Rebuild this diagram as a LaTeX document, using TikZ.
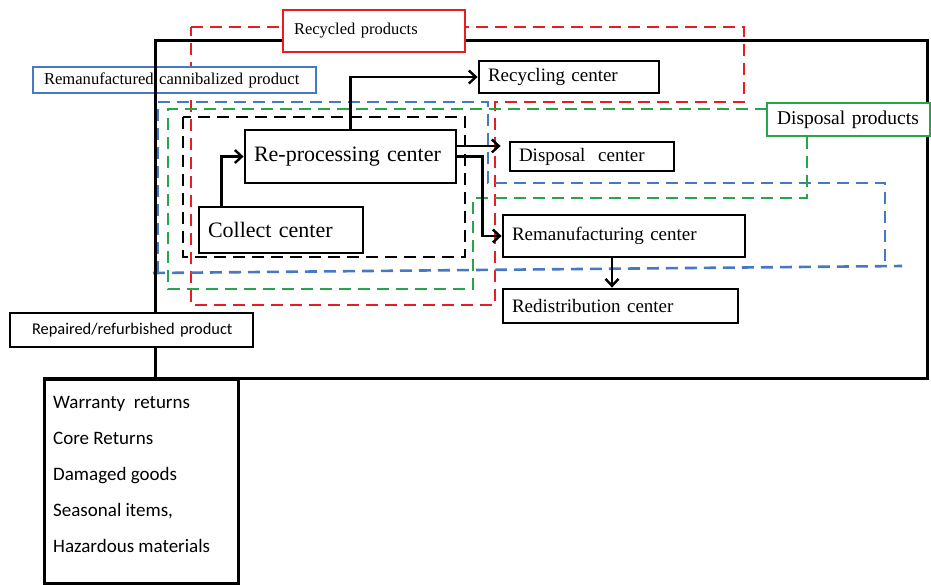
\documentclass[tikz,border=0pt]{standalone}
\usepackage{fontspec}
\setmainfont{Liberation Serif}
\newfontfamily\calibrifont{Carlito}
\usetikzlibrary{arrows.meta,calc}
\definecolor{dred}{RGB}{230,30,35}
\definecolor{dblue}{RGB}{70,120,195}
\definecolor{dgreen}{RGB}{40,165,75}
\tikzset{
  frameline/.style={line width=3pt,line join=miter},
  zone/.style={line width=2.6pt,dash pattern=on 12pt off 7pt},
  cbox/.style={draw,line width=2.8pt,fill=white,inner xsep=9pt,inner ysep=0pt,align=left},
  lbox/.style={draw,line width=2pt,fill=white,inner xsep=10pt,inner ysep=0pt,align=left},
  arr/.style={line width=2.4pt,-{Straight Barb[length=7pt,width=13pt,line width=2.4pt]}},
  fa/.style={font=\fontsize{22pt}{26pt}\selectfont},
  fb/.style={font=\fontsize{19pt}{23pt}\selectfont},
  fc/.style={font=\fontsize{16.5pt}{20pt}\selectfont},
}
\begin{document}
\begin{tikzpicture}[x=1pt,y=-1pt]
\useasboundingbox (0,0) rectangle (931,584);
% dashed zones
\draw[zone,dred] (191,27) -- (744,27) -- (744,102) -- (495,102) -- (495,305) -- (191,305) -- cycle;
\draw[zone,dblue] (158,273) -- (158,102) -- (488,102) -- (488,183) -- (885,183) -- (885,267);
\draw[zone,dblue] (153,273) -- (902,266);
\draw[zone,dgreen] (767,109) -- (168,109) -- (168,289) -- (473,289) -- (473,198) -- (807,198) -- (807,136);
\draw[zone,black] (183,117) rectangle (465,257);
% remanufactured label (black frame line passes over it)
\node[lbox,draw=dblue,line width=1.8pt,font=\fontsize{16.6pt}{20pt}\selectfont,minimum width=283pt,minimum height=26pt,text width=261pt,inner xsep=11pt] (reman) at (174.5,80) {\mbox{Remanufactured cannibalized product}};
% main frame
\draw[frameline] (43,378) -- (927,378) -- (927,40) -- (155,40) -- (155,378);
% labels
\node[lbox,draw=dred,fc,minimum width=182pt,minimum height=42pt,text width=160pt,inner xsep=11pt] (recy) at (374,31) {Recycled products};
\node[lbox,draw=dgreen,font=\fontsize{19.5pt}{22pt}\selectfont,minimum width=163pt,minimum height=33pt,text width=143pt] (disp) at (848.5,119.5) {\mbox{Disposal products}};
\node[lbox,draw=black,line width=2.8pt,font=\calibrifont\fontsize{16.4pt}{20pt}\selectfont,minimum width=243pt,minimum height=34pt,text width=199pt,inner xsep=22pt] (repr) at (131.5,330) {\mbox{Repaired/refurbished product}};
% centers
\node[cbox,fa,minimum width=211pt,minimum height=53pt,text width=193pt] (rp) at (350.5,156.5) {\mbox{Re-processing center}};
\node[cbox,fa,minimum width=164pt,minimum height=46pt,text width=146pt] (cc) at (281,230) {\mbox{Collect center}};
\node[cbox,fb,minimum width=180pt,minimum height=32pt,text width=162pt] (rc) at (569,77) {\mbox{Recycling center}};
\node[cbox,fb,minimum width=164pt,minimum height=29pt,text width=146pt] (dc) at (592,156.5) {\mbox{Disposal\ \ center}};
\node[cbox,fb,minimum width=242pt,minimum height=42pt,text width=224pt] (mc) at (624,236) {\mbox{Remanufacturing center}};
\node[cbox,fb,minimum width=235pt,minimum height=34pt,text width=217pt] (dr) at (620.5,306) {\mbox{Redistribution center}};
% list box
\node[draw,line width=3pt,fill=white,minimum width=194pt,minimum height=204pt,anchor=north west,inner sep=0pt] (lst) at (43,378) {};
\node[anchor=north west,inner sep=0pt,align=left,font=\calibrifont\fontsize{19pt}{36pt}\selectfont] (lsttxt) at (53,396)
  {Warranty\ \ returns\\Core Returns\\Damaged goods\\Seasonal items,\\Hazardous materials};
% arrows
\draw[arr] ([xshift=24pt]cc.north west) |- (rp.west);
\draw[arr] (rp.north) |- (rc.west);
\draw[arr,shorten >=8pt] ([yshift=10.5pt]rp.east) -- ([yshift=10.5pt]rp.east -| dc.west);
\draw[arr] (rp.east) -- ++(25,0) |- (mc.west);
\draw[arr] ([xshift=-12pt]mc.south) -- ([xshift=-12pt]mc.south |- dr.north);
\end{tikzpicture}
\end{document}
